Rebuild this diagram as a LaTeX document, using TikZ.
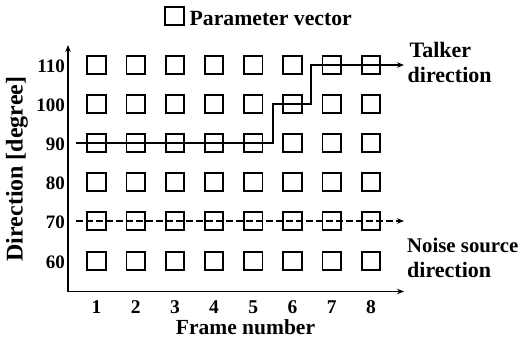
\documentclass[tikz,border=0pt]{standalone}
\usepackage{fontspec}
\setmainfont{Liberation Serif}
\usetikzlibrary{arrows.meta}
\begin{document}
\begin{tikzpicture}[x=1pt,y=-1pt,
  pv/.style={draw, line width=1.8pt, minimum size=18.5pt, inner sep=0pt},
  lbl/.style={font=\fontsize{22}{24}\selectfont\bfseries, inner sep=0pt},
  bigl/.style={font=\fontsize{21.5}{24}\selectfont\bfseries, inner sep=0pt},
  tick/.style={font=\fontsize{19}{20}\selectfont\bfseries, inner sep=0pt},
  xtick/.style={font=\fontsize{19.5}{22}\selectfont\bfseries, inner sep=0pt},
  tip/.style={-{Stealth[length=7pt,width=5.5pt]}},
  ax/.style={line width=1.7pt},
  trk/.style={line width=1.7pt, tip},
]
\useasboundingbox (0,0) rectangle (527,343);
% legend
\node[pv] (leg) at (174.5,16) {};
\node[font=\fontsize{21.7}{24}\selectfont\bfseries, inner sep=0pt, anchor=base west] (legt) at (189.5,25) {Parameter vector};
% squares
\foreach \i in {1,...,8}{
  \foreach \j/\yy in {110/65,100/104,90/143,80/182,70/221,60/261}{
    \node[pv] (s\i-\j) at ({96.5+39.2*(\i-1)},\yy) {};
  }
}
% axes
\coordinate (o) at (68,291.5);
\coordinate (ytop) at (68,45);
\coordinate (xend) at (404,291.5);
\draw[ax, {Stealth[length=7pt,width=5.5pt]}-{Stealth[length=7pt,width=5.5pt]}] (ytop) -- (o) -- (xend);
% y ticks
\foreach \j/\yy in {110/65,100/104,90/143,80/182,70/221,60/261}{
  \node[tick, anchor=base east] (yl\j) at (65,\yy+7) {\j};
}
% x ticks
\foreach \i in {1,...,8}{
  \node[xtick, anchor=base] (xl\i) at ({96.5+39.2*(\i-1)},313) {\i};
}
\node[bigl, anchor=base] (xlab) at (245.5,334) {Frame number};
\node[font=\fontsize{24}{26}\selectfont\bfseries, inner sep=0pt, rotate=90] (ylab) at (17,169) {Direction [degree]};
% talker track
\coordinate (ts) at (76,143);
\coordinate (k1) at (273,143);
\coordinate (k2) at (273,104);
\coordinate (k3) at (311,104);
\coordinate (k4) at (311,65);
\coordinate (te) at (404,65);
\draw[trk] (ts) -- (k1) -- (k2) -- (k3) -- (k4) -- (te);
% noise track
\coordinate (ns) at (76,221);
\coordinate (ne) at (404,221);
\draw[trk, dash pattern=on 6.5pt off 3.5pt] (ns) -- (ne);
% side labels
\node[lbl, anchor=base west] (tl1) at (409.5,57) {Talker};
\node[lbl, anchor=base west] (tl2) at (407.5,82.5) {direction};
\node[font=\fontsize{20.8}{24}\selectfont\bfseries, inner sep=0pt, anchor=base west] (nl1) at (407,252) {Noise source};
\node[lbl, anchor=base west] (nl2) at (407,277.5) {direction};
\end{tikzpicture}
\end{document}
